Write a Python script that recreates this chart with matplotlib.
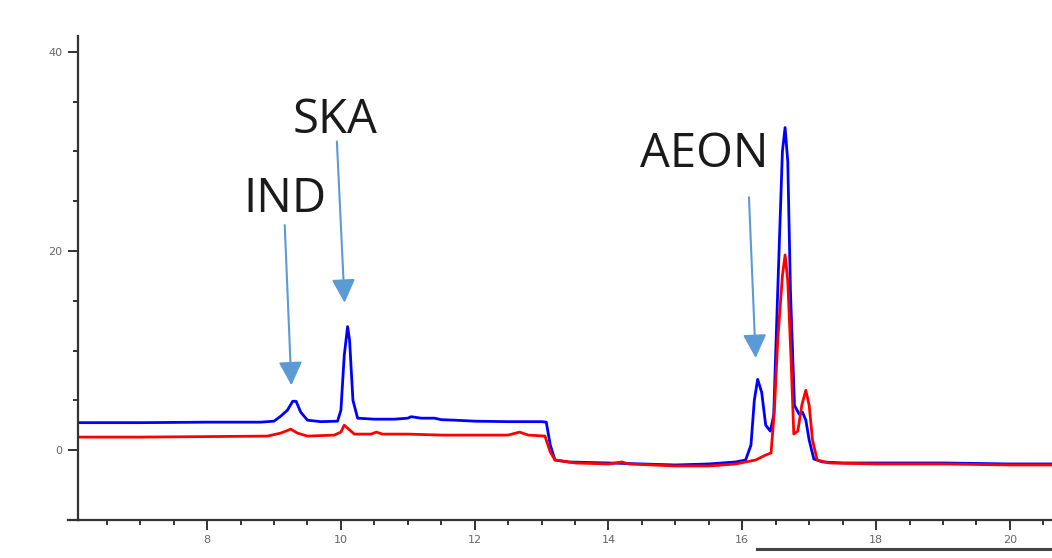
import numpy as np
import matplotlib
matplotlib.use("Agg")
import matplotlib.pyplot as plt
from matplotlib.lines import Line2D
from matplotlib.ticker import MultipleLocator, FixedLocator

# retention time (min) and signal
blue_x = [6.07, 7.0, 8.0, 8.8, 9.0, 9.1, 9.2, 9.28, 9.33, 9.4, 9.5, 9.7, 9.95,
          10.0, 10.05, 10.1, 10.13, 10.18, 10.25, 10.5, 10.8, 11.0, 11.05, 11.2,
          11.4, 11.5, 11.7, 12.0, 12.5, 13.0, 13.07, 13.13, 13.2, 13.4, 14.0,
          14.5, 15.0, 15.5, 15.9, 16.05, 16.13, 16.18, 16.23, 16.29, 16.35,
          16.42, 16.47, 16.53, 16.6, 16.64, 16.68, 16.72, 16.78, 16.85, 16.9,
          16.95, 17.0, 17.07, 17.2, 17.5, 18.0, 19.0, 20.0, 20.63]
blue_y = [2.75, 2.75, 2.8, 2.8, 2.9, 3.4, 4.0, 4.9, 4.9, 3.8, 3.0, 2.85, 2.9,
          4.0, 9.5, 12.4, 11.0, 5.0, 3.2, 3.1, 3.1, 3.2, 3.35, 3.2,
          3.2, 3.05, 3.0, 2.9, 2.85, 2.85, 2.8, 0.5, -1.0, -1.2, -1.3,
          -1.4, -1.5, -1.4, -1.2, -1.0, 0.5, 5.0, 7.1, 5.8, 2.5,
          1.9, 3.5, 16.0, 30.0, 32.4, 29.0, 16.0, 4.5, 3.6, 3.8,
          3.0, 1.0, -0.9, -1.2, -1.3, -1.3, -1.3, -1.4, -1.4]

red_x = [6.07, 7.0, 8.0, 8.9, 9.1, 9.25, 9.35, 9.5, 9.9, 10.0, 10.05, 10.1,
         10.2, 10.45, 10.53, 10.62, 11.0, 11.5, 12.0, 12.5, 12.67, 12.8, 13.05,
         13.13, 13.2, 13.5, 14.0, 14.2, 14.3, 15.0, 15.5, 15.9, 16.2, 16.35,
         16.43, 16.48, 16.53, 16.6, 16.64, 16.68, 16.73, 16.77, 16.83, 16.89,
         16.95, 17.0, 17.05, 17.12, 17.3, 18.0, 19.0, 20.0, 20.63]
red_y = [1.3, 1.3, 1.35, 1.4, 1.7, 2.1, 1.7, 1.4, 1.5, 1.8, 2.5, 2.2,
         1.6, 1.6, 1.8, 1.6, 1.6, 1.5, 1.5, 1.5, 1.8, 1.5, 1.4,
         -0.2, -1.0, -1.3, -1.4, -1.2, -1.4, -1.6, -1.6, -1.4, -1.0, -0.5,
         -0.3, 4.0, 11.0, 17.5, 19.6, 17.0, 9.0, 1.6, 1.9, 4.5,
         6.0, 4.5, 1.0, -1.0, -1.3, -1.4, -1.4, -1.5, -1.5]

peak_names = ["IND", "SKA", "AEON"]

fig = plt.figure(figsize=(10.52, 5.58), dpi=100)
ax = fig.add_axes([78 / 1052, 38 / 558, 1 - 78 / 1052, (520 - 36) / 558])

ax.plot(blue_x, blue_y, color="#0000ff", lw=2.0, solid_joinstyle="round")
ax.plot(red_x, red_y, color="#ff0000", lw=2.0, solid_joinstyle="round")

ax.set_xlim(6.07, 20.63)
ax.set_ylim(-7.03, 41.6)

for s in ["top", "right"]:
    ax.spines[s].set_visible(False)
for s in ["left", "bottom"]:
    ax.spines[s].set_color("#333333")
    ax.spines[s].set_linewidth(1.6)

ax.xaxis.set_major_locator(MultipleLocator(2))
ax.xaxis.set_minor_locator(MultipleLocator(0.5))
ax.yaxis.set_major_locator(MultipleLocator(20))
ax.yaxis.set_minor_locator(FixedLocator([5, 10, 15, 25, 30, 35]))
ax.tick_params(which="major", length=7, width=1.4, color="#333333",
               labelsize=8, labelcolor="#666666", pad=4)
ax.tick_params(which="minor", length=3.5, width=1.4, color="#333333")

# x axis line sticks out a little to the left of the y axis
fig.add_artist(Line2D([68 / 1052, 79 / 1052], [38 / 558, 38 / 558],
                      color="#333333", lw=1.6))
# cut-off line at the bottom right
fig.add_artist(Line2D([757 / 1052, 1.0], [9 / 558, 9 / 558],
                      color="#444444", lw=2.2))

arrow_col = "#5b9bd5"
arrows = [((9.16, 22.6), (9.26, 6.5)),
          ((9.94, 31.0), (10.055, 14.8)),
          ((16.1, 25.4), (16.2, 9.25))]
for tail, tip in arrows:
    ax.annotate("", xy=tip, xytext=tail,
                arrowprops=dict(arrowstyle="-|>,head_length=0.4,head_width=0.2",
                                mutation_scale=36, color=arrow_col, lw=1.5,
                                shrinkA=0, shrinkB=0))

label_pos = [(9.16, 23.9), (9.905, 31.9), (15.43, 28.4)]
for name, (lx, ly) in zip(peak_names, label_pos):
    ax.text(lx, ly, name, ha="center", va="baseline", fontsize=34,
            family="Open Sans", color="#1a1a1a")

fig.savefig("out.png", dpi=100)
